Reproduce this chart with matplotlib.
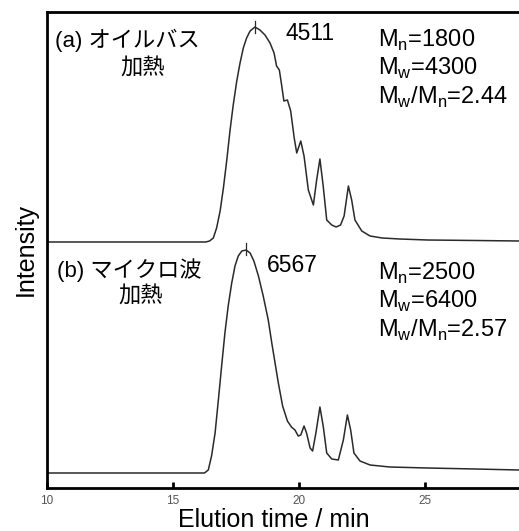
import numpy as np
import matplotlib.pyplot as plt

plt.rcParams['font.family'] = ['Liberation Sans', 'Noto Sans CJK JP']
plt.rcParams['mathtext.fontset'] = 'custom'
plt.rcParams['mathtext.rm'] = 'Liberation Sans'

# (a) oil bath heating, intensity above its own baseline
t_a = [10.0, 16.3, 16.45, 16.60, 16.73, 16.87, 17.00, 17.13, 17.26, 17.39, 17.53,
       17.66, 17.79, 17.92, 18.06, 18.25, 18.45, 18.65, 18.85, 19.01, 19.11,
       19.22, 19.31, 19.40, 19.54, 19.67, 19.81, 19.91, 20.07, 20.20, 20.37,
       20.57, 20.70, 20.83, 20.96, 21.10, 21.30, 21.47, 21.65, 21.79, 21.96,
       22.09, 22.22, 22.49, 22.82, 23.3, 24.0, 25.1, 27.0, 28.73]
i_a = [0, 0, 1, 4, 14, 31, 54, 81, 111, 137, 161,
       179, 194, 204, 211, 215, 212, 207, 199, 189, 176,
       172, 157, 141, 142, 131, 104, 89, 101, 86, 52,
       37, 62, 83, 56, 22, 17, 15, 17, 26, 56,
       42, 22, 11, 6, 4, 3, 2, 1.5, 1]

# (b) microwave heating
t_b = [10.0, 16.25, 16.40, 16.53, 16.67, 16.80, 16.93, 17.06, 17.19, 17.33, 17.46,
       17.59, 17.73, 17.90, 18.06, 18.21, 18.39, 18.58, 18.78, 18.92, 19.05,
       19.18, 19.35, 19.54, 19.70, 19.84, 19.97, 20.07, 20.20, 20.30, 20.44,
       20.54, 20.67, 20.83, 20.96, 21.10, 21.30, 21.56, 21.76, 21.92, 22.05,
       22.18, 22.42, 22.82, 23.6, 25.1, 27.0, 28.73]
i_b = [0, 0, 3, 17, 40, 73, 107, 140, 167, 190, 207,
       217, 222, 223, 220, 212, 197, 177, 153, 130, 110,
       90, 67, 52, 46, 43, 37, 38, 47, 40, 25,
       22, 40, 66, 47, 20, 14, 13, 33, 58, 43,
       20, 12, 8, 6, 5, 4, 3]

peak_a = 18.25
peak_b = 17.90
off_a = 246
off_b = 15

fig = plt.figure(figsize=(5.19, 5.31), dpi=100)
ax = fig.add_axes([47/519, 43/531, 1 - 47/519, 476/531])

ax.plot(t_a, np.array(i_a) + off_a, color='#2a2a2a', lw=1.1)
ax.plot(t_b, np.array(i_b) + off_b, color='#2a2a2a', lw=1.1)

# peak markers
ax.plot([peak_a, peak_a], [off_a + 209, off_a + 221], color='#2a2a2a', lw=0.9)
ax.plot([peak_b, peak_b], [off_b + 218, off_b + 230], color='#2a2a2a', lw=0.9)

ax.set_xlim(10, 28.73)
ax.set_ylim(0, 476)
ax.set_xticks([10, 15, 20, 25])
ax.set_yticks([])
ax.tick_params(axis='x', direction='in', length=4, width=2, labelsize=8.5,
               labelcolor='#555555', pad=5)
for s in ['left', 'bottom', 'top']:
    ax.spines[s].set_linewidth(2)
ax.spines['right'].set_visible(False)

ax.set_xlabel('Elution time / min', fontsize=18, labelpad=1)
ax.set_ylabel('Intensity', fontsize=18, labelpad=7)
ax.xaxis.label.set_x(0.481)

fs = 17
ax.text(19.48, 448, '4511', fontsize=16.5, va='baseline')
ax.text(0.017, 448/476, '(a) オイルバス', transform=ax.transAxes, fontsize=16, va='center')
ax.text(12.9, 418.5, '加熱', fontsize=16, va='center')
ax.text(23.15, 441, r'M$_\mathrm{n}$=1800', fontsize=fs, va='baseline')
ax.text(23.15, 413, r'M$_\mathrm{w}$=4300', fontsize=fs, va='baseline')
ax.text(23.15, 384, r'M$_\mathrm{w}$/M$_\mathrm{n}$=2.44', fontsize=fs, va='baseline')

ax.text(18.72, 216, '6567', fontsize=16.5, va='baseline')
ax.text(0.021, 217.5/476, '(b) マイクロ波', transform=ax.transAxes, fontsize=16, va='center')
ax.text(12.85, 190.5, '加熱', fontsize=16, va='center')
ax.text(23.15, 208, r'M$_\mathrm{n}$=2500', fontsize=fs, va='baseline')
ax.text(23.15, 180.5, r'M$_\mathrm{w}$=6400', fontsize=fs, va='baseline')
ax.text(23.15, 151.5, r'M$_\mathrm{w}$/M$_\mathrm{n}$=2.57', fontsize=fs, va='baseline')

fig.savefig('out.png', dpi=100)
